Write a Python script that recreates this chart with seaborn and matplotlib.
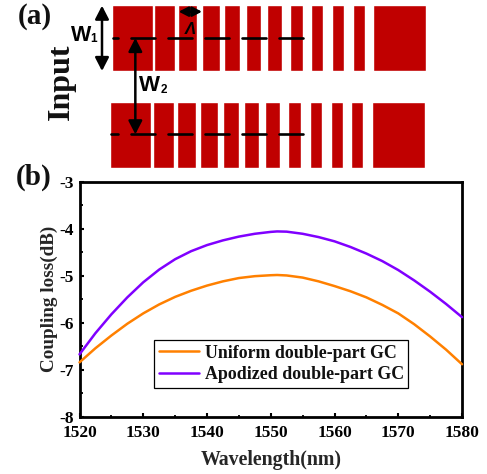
import matplotlib
matplotlib.use("Agg")
import matplotlib.pyplot as plt
import pandas as pd
import seaborn as sns

wavelength = [1520, 1522.5, 1525, 1527.5, 1530, 1532.5, 1535, 1537.5, 1540, 1542.5, 1545, 1547.5,
              1550, 1551, 1552.5, 1555, 1557.5, 1560, 1562.5, 1565, 1567.5, 1570, 1572.5, 1575, 1577.5, 1580]
uniform_gc = [-6.84, -6.54, -6.27, -6.02, -5.80, -5.61, -5.45, -5.32, -5.21, -5.12, -5.05, -5.01,
              -4.99, -4.985, -4.995, -5.04, -5.12, -5.22, -5.33, -5.46, -5.62, -5.80, -6.03, -6.29, -6.57, -6.88]
apodized_gc = [-6.67, -6.22, -5.82, -5.46, -5.14, -4.87, -4.65, -4.48, -4.35, -4.25, -4.17, -4.11,
               -4.07, -4.06, -4.065, -4.11, -4.18, -4.27, -4.39, -4.53, -4.69, -4.88, -5.10, -5.34, -5.60, -5.88]
series_names = ["Uniform double-part GC", "Apodized double-part GC"]
series_colors = ["#FF8000", "#8000FF"]
x_ticks = [1520, 1530, 1540, 1550, 1560, 1570, 1580]
y_ticks = [-8, -7, -6, -5, -4, -3]

# schematic tooth edges, in units of the overlay
top_teeth = [(336, 459), (462, 525), (534, 591), (606, 660), (672, 720), (738, 783),
             (801, 846), (870, 909), (933, 969), (996, 1032), (1059, 1095), (1119, 1278)]
bottom_teeth = [(330, 453), (459, 522), (531, 588), (600, 654), (669, 717), (732, 777),
                (795, 840), (864, 903), (930, 966), (993, 1029), (1053, 1089), (1116, 1275)]
dashes = [(393, 465), (505, 577), (616, 688), (727, 799), (838, 910)]

sns.set_theme(style="ticks")
plt.rcParams["font.family"] = ["Liberation Serif", "DejaVu Serif"]
plt.rcParams["font.weight"] = "bold"
plt.rcParams["axes.labelweight"] = "bold"

W, H = 487, 474
fig = plt.figure(figsize=(W / 100, H / 100), dpi=100)
L, R, T, B = 79.5, 462, 181.5, 417
ax = fig.add_axes([L / W, 1 - B / H, (R - L) / W, (B - T) / H])

df = pd.DataFrame({
    "wavelength": wavelength * 2,
    "loss": uniform_gc + apodized_gc,
    "series": [series_names[0]] * len(wavelength) + [series_names[1]] * len(wavelength),
})
sns.lineplot(data=df, x="wavelength", y="loss", hue="series", hue_order=series_names,
             palette=series_colors, lw=1.8, ax=ax, clip_on=False, zorder=3)

ax.set_xlim(1520, 1580)
ax.set_ylim(-8, -3)
ax.set_xticks(x_ticks)
ax.set_yticks(y_ticks)
ax.set_xticks([v + 5 for v in x_ticks[:-1]], minor=True)
ax.set_yticks([v + 0.5 for v in y_ticks[:-1]], minor=True)
ax.tick_params(axis="both", which="major", direction="in", length=3, width=1.5,
               labelsize=12.5, colors="black")
ax.tick_params(axis="x", which="major", pad=6)
ax.tick_params(axis="y", which="major", pad=4)
ax.tick_params(axis="both", which="minor", direction="in", length=1.8, width=1.3, colors="black")
ax.set_yticklabels([str(v) for v in y_ticks])
for s in ax.spines.values():
    s.set_linewidth(2)
    s.set_color("black")
    s.set_visible(True)
ax.set_xlabel("Wavelength(nm)", fontsize=14.3, labelpad=6, fontweight="bold")
ax.set_ylabel("Coupling loss(dB)", fontsize=13.8, labelpad=1, fontweight="bold")

leg = ax.legend(loc="lower left", bbox_to_anchor=((154 - L) / (R - L), (B - 388) / (B - T)),
                borderaxespad=0, frameon=True, fancybox=False, framealpha=1, edgecolor="black",
                fontsize=12.9, handlelength=2.25, handletextpad=0.3, labelspacing=0.25,
                borderpad=0.27, title=None)
leg.get_frame().set_linewidth(0.9)
for t in leg.get_texts():
    t.set_fontweight("bold")
    t.set_color("#111111")

# overlay for the schematic (a) and the panel letters
ov = fig.add_axes([0, 0, 1, 1], zorder=5)
ov.set_xlim(0, 1461)
ov.set_ylim(1422, 0)
ov.axis("off")
ov.patch.set_alpha(0)
red = "#C00000"
ov.broken_barh([(a, b - a) for a, b in top_teeth], (15, 198), facecolors=red)
ov.broken_barh([(a, b - a) for a, b in bottom_teeth], (306, 198), facecolors=red)
for y, first in ((114, (339, 354)), (403, (333, 354))):
    for a, b in [first] + dashes:
        ov.plot([a, b], [y, y], color="black", lw=1.9, solid_capstyle="round")


def arrow(p, q, scale):
    ov.annotate("", xy=q, xytext=p,
                arrowprops=dict(arrowstyle="<|-|>,head_width=0.36,head_length=0.7",
                                color="black", lw=1.8, shrinkA=0, shrinkB=0, mutation_scale=scale))


arrow((306, 17), (306, 213), 11.5)
arrow((406, 114), (406, 403), 11.5)
arrow((536, 35), (606, 35), 8)

ov.text(104, 50, "(a)", fontsize=21, fontweight="bold", ha="center", va="center", color="#111111")
ov.text(102, 532, "(b)", fontsize=21, fontweight="bold", ha="center", va="center", color="#111111")
ov.text(184, 245, "Input", fontsize=23, fontweight="bold", rotation=90, ha="center", va="center", color="#111111")
sans = "Liberation Sans"
ov.text(213, 107, "W", fontsize=15.5, family=sans, fontweight="bold", ha="left", va="center", color="black")
ov.text(271, 118, "1", fontsize=8.5, family=sans, fontweight="bold", ha="left", va="center", color="black")
ov.text(418, 257, "W", fontsize=16, family=sans, fontweight="bold", ha="left", va="center", color="black")
ov.text(481, 270, "2", fontsize=8.5, family=sans, fontweight="bold", ha="left", va="center", color="black")
ov.text(570, 88, "Λ", fontsize=12, family=sans, fontweight="bold", style="italic", ha="center", va="center", color="black")

fig.savefig("out.png", dpi=100, facecolor="white")
